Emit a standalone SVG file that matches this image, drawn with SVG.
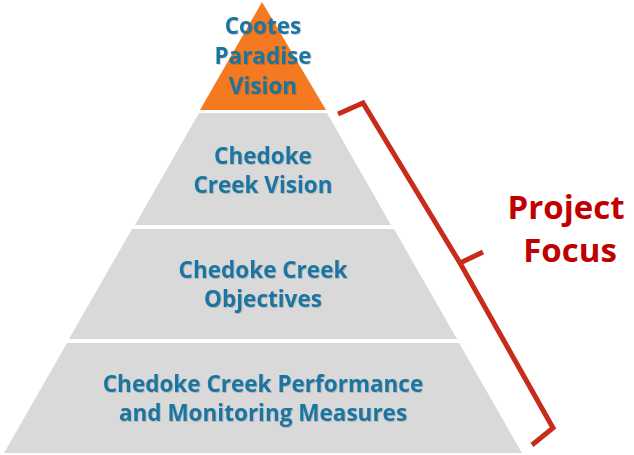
<svg xmlns="http://www.w3.org/2000/svg" width="634" height="455" viewBox="0 0 634 455">
<defs>
<filter id="sh" x="-10%" y="-10%" width="120%" height="130%">
<feDropShadow dx="0.8" dy="0.8" stdDeviation="0.5" flood-color="#000" flood-opacity="0.2"/>
</filter>
</defs>
<style>
.tier{fill:#D9D9D9}
.top{fill:#F47920}
.lbl{font-family:"Open Sans","Noto Sans",sans-serif;font-weight:bold;font-size:22.5px;fill:#1C75A0;text-anchor:middle;filter:url(#sh)}
.focus{font-family:"Open Sans","Noto Sans",sans-serif;font-weight:bold;font-size:33px;fill:#C00000;text-anchor:middle}
.brace{fill:none;stroke:#C72B1C;stroke-width:5;stroke-linejoin:miter;stroke-linecap:butt}
</style>
<rect width="634" height="455" fill="#fff"/>
<g id="cootes">
<polygon class="top" points="262,2 326,110 200,110"/>
<text class="lbl" x="263" y="34">Cootes</text>
<text class="lbl" x="263" y="64">Paradise</text>
<text class="lbl" x="263" y="94">Vision</text>
</g>
<g id="vision">
<polygon class="tier" points="199,113 327,113 391,225 135,225"/>
<text class="lbl" x="263" y="164">Chedoke</text>
<text class="lbl" x="263" y="193">Creek Vision</text>
</g>
<g id="objectives">
<polygon class="tier" points="132,229 394,229 457,339 69,339"/>
<text class="lbl" x="263" y="278">Chedoke Creek</text>
<text class="lbl" x="263" y="307">Objectives</text>
</g>
<g id="measures">
<polygon class="tier" points="67,343 459,343 522,453 4,453"/>
<text class="lbl" x="263" y="392">Chedoke Creek Performance</text>
<text class="lbl" x="263" y="421">and Monitoring Measures</text>
</g>
<g id="connectors">
<path class="brace" d="M338,114 L363,103 L460,263 L483,252 M460,263 L553,428 L532,445"/>
</g>
<g id="focus">
<text class="focus" x="566" y="219">Project</text>
<text class="focus" x="570" y="262">Focus</text>
</g>
</svg>
